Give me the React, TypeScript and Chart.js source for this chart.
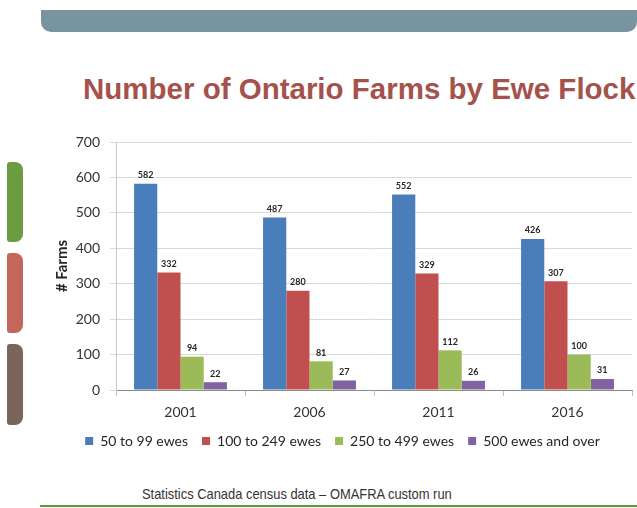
import React, { useEffect, useRef } from "react";
import { Chart, registerables } from "chart.js";

Chart.register(...registerables);

const titleText = "Number of Ontario Farms by Ewe Flock";
const footerText = "Statistics Canada census data \u2013 OMAFRA custom run";
const yAxisTitle = "# Farms";
const categories = ["2001", "2006", "2011", "2016"];
const seriesNames = ["50 to 99 ewes", "100 to 249 ewes", "250 to 499 ewes", "500 ewes and over"];
const ewes50to99 = [582, 487, 552, 426];
const ewes100to249 = [332, 280, 329, 307];
const ewes250to499 = [94, 81, 112, 100];
const ewes500plus = [22, 27, 26, 31];
const seriesColors = ["#4a7ebb", "#c0504d", "#9bbb59", "#8064a2"];
const yMin = 0;
const yMax = 700;
const yStep = 100;

const FONT = "Lato, 'Open Sans', sans-serif";

const valueLabels = {
  id: "valueLabels",
  afterDatasetsDraw(chart: any) {
    const ctx = chart.ctx;
    ctx.save();
    ctx.font = "bold 9px " + FONT;
    ctx.fillStyle = "#262626";
    ctx.textAlign = "center";
    ctx.textBaseline = "bottom";
    chart.data.datasets.forEach((ds: any, i: number) => {
      const meta = chart.getDatasetMeta(i);
      meta.data.forEach((el: any, j: number) => {
        ctx.fillText(String(ds.data[j]), el.x, el.y - 4);
      });
    });
    ctx.restore();
  },
};

function BarChart() {
  const ref = useRef<HTMLCanvasElement | null>(null);
  useEffect(() => {
    if (!ref.current) return;
    const seriesData = [ewes50to99, ewes100to249, ewes250to499, ewes500plus];
    const chart = new Chart(ref.current, {
      type: "bar",
      data: {
        labels: categories,
        datasets: seriesNames.map((name, i) => ({
          label: name,
          data: seriesData[i],
          backgroundColor: seriesColors[i],
          borderWidth: 0,
          categoryPercentage: 0.72,
          barPercentage: 1.0,
        })),
      },
      options: {
        animation: false,
        responsive: true,
        maintainAspectRatio: false,
        layout: { padding: { left: 53, right: 5, top: 22, bottom: 2 } },
        plugins: {
          tooltip: { enabled: false },
          legend: {
            position: "bottom",
            labels: {
              boxWidth: 8,
              boxHeight: 8,
              padding: 14,
              color: "#262626",
              font: { family: FONT, size: 14 },
            },
          },
        },
        scales: {
          x: {
            grid: {
              display: true,
              drawOnChartArea: false,
              drawTicks: true,
              tickLength: 6,
              color: "#bfbfbf",
            },
            border: { display: true, color: "#8c8c8c" },
            ticks: {
              color: "#333333",
              padding: 8,
              font: { family: FONT, size: 14 },
            },
            afterFit: (scale: any) => {
              scale.height = 30;
            },
          },
          y: {
            min: yMin,
            max: yMax,
            ticks: {
              stepSize: yStep,
              color: "#333333",
              padding: 10,
              font: { family: FONT, size: 14 },
            },
            grid: { color: "#d9d9d9", tickLength: 6 },
            border: { display: true, color: "#c8c8c8" },
            title: {
              display: true,
              text: yAxisTitle,
              color: "#262626",
              padding: { top: 0, bottom: 0 },
              font: { family: FONT, size: 15, weight: "bold" },
            },
            afterFit: (scale: any) => {
              scale.width = 63;
            },
          },
        },
      },
      plugins: [valueLabels],
    });
    return () => chart.destroy();
  }, []);
  return <canvas ref={ref} />;
}

export default function App() {
  return (
    <div
      style={{
        position: "absolute",
        left: 0,
        top: 0,
        width: 637,
        height: 508,
        background: "#ffffff",
        overflow: "hidden",
      }}
    >
      <div
        style={{
          position: "absolute",
          left: 41,
          top: 10,
          width: 596,
          height: 22,
          background: "#7794a0",
          borderRadius: "0 0 10px 10px",
        }}
      />
      <div style={{ position: "absolute", left: 7, top: 162, width: 16, height: 80, background: "#6c9c42", borderRadius: "3px 8px 8px 3px" }} />
      <div style={{ position: "absolute", left: 7, top: 253, width: 16, height: 80, background: "#c4665b", borderRadius: "3px 8px 8px 3px" }} />
      <div style={{ position: "absolute", left: 7, top: 344, width: 16, height: 81, background: "#7a655b", borderRadius: "3px 8px 8px 3px" }} />
      <div
        style={{
          position: "absolute",
          left: 83,
          top: 74,
          whiteSpace: "nowrap",
          fontFamily: "'Liberation Sans', Arial, sans-serif",
          fontWeight: "bold",
          fontSize: 29.5,
          lineHeight: 1,
          color: "#a5514c",
        }}
      >
        {titleText}
      </div>
      <div style={{ position: "absolute", left: 0, top: 120, width: 637, height: 340 }}>
        <BarChart />
      </div>
      <div
        style={{
          position: "absolute",
          left: 142,
          top: 486,
          whiteSpace: "nowrap",
          fontFamily: "'Liberation Sans', Arial, sans-serif",
          fontSize: 15,
          lineHeight: 1,
          color: "#333333",
          transform: "scaleX(0.86)",
          transformOrigin: "left top",
        }}
      >
        {footerText}
      </div>
      <div style={{ position: "absolute", left: 40, top: 505, width: 597, height: 2, background: "#5b9b3e" }} />
    </div>
  );
}
